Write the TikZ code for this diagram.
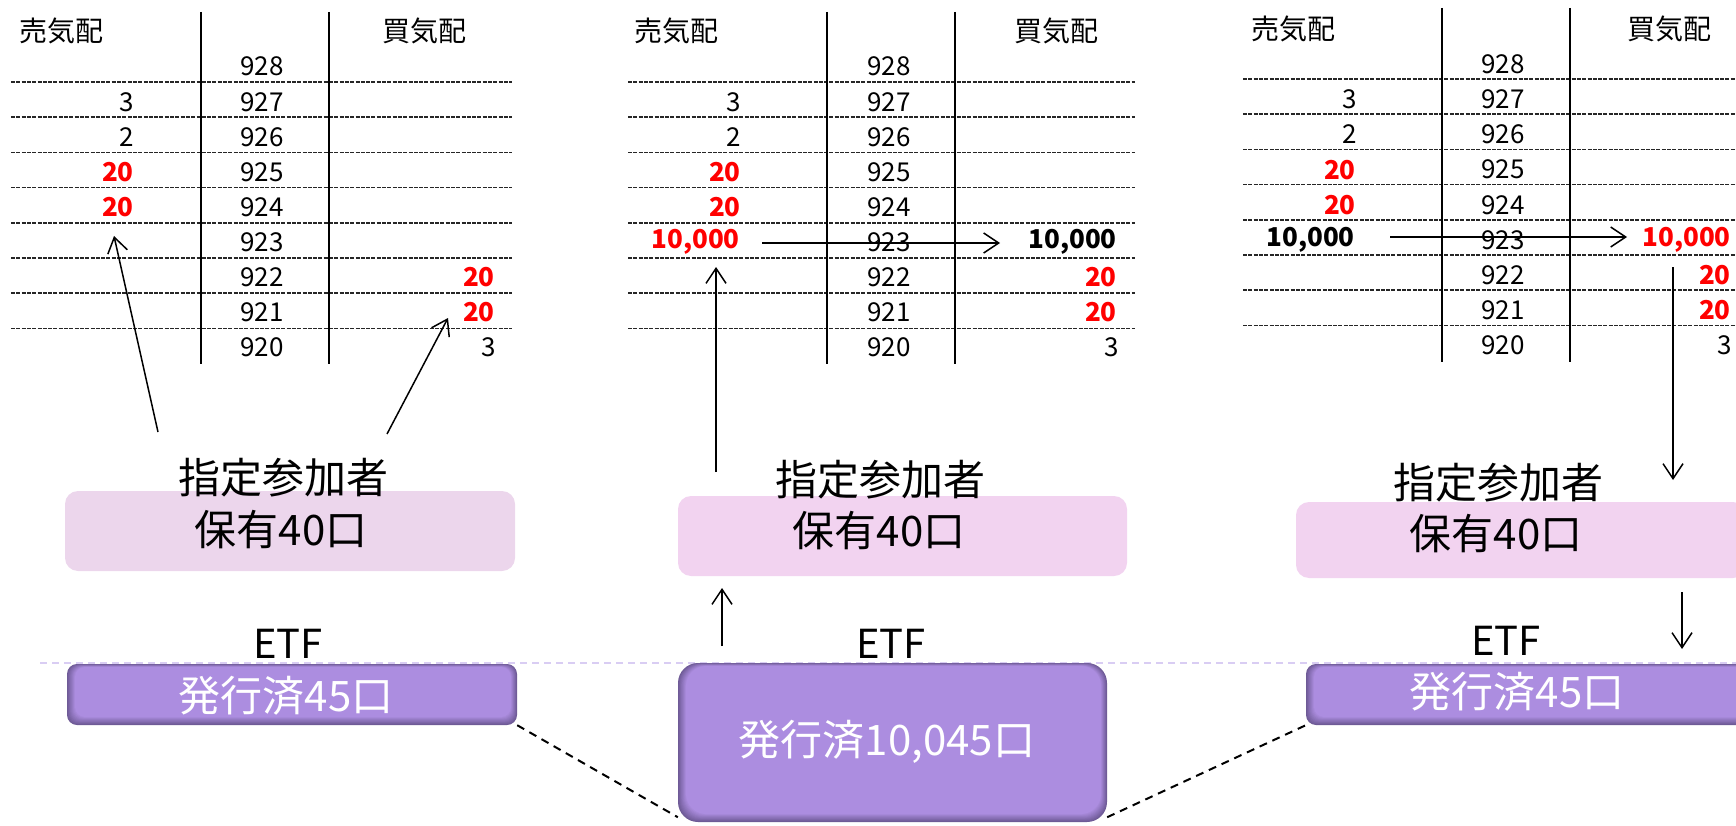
\documentclass[tikz,border=0pt]{standalone}
\usepackage{fontspec}
\setmainfont{Noto Sans CJK JP}
\usetikzlibrary{arrows.meta}
\definecolor{pinkA}{HTML}{ECD6EC}
\definecolor{pinkB}{HTML}{F2D3F0}
\definecolor{pmain}{HTML}{AC8DE0}
\definecolor{pdark}{HTML}{6E5A96}
\definecolor{lav}{HTML}{D9CDF3}
\definecolor{qred}{HTML}{FF0000}
\tikzset{
  hdr/.style={font=\fontsize{28}{30}\selectfont, inner sep=0pt},
  num/.style={font=\fontsize{26}{28}\selectfont, inner sep=0pt},
  rnum/.style={font=\fontsize{26}{28}\selectfont\bfseries, inner sep=0pt, text=qred},
  bnum/.style={font=\fontsize{26}{28}\selectfont\bfseries, inner sep=0pt},
  big/.style={font=\fontsize{42}{44}\selectfont, inner sep=0pt},
  etftxt/.style={font=\fontsize{40}{42}\selectfont, inner sep=0pt},
  wtxt/.style={font=\fontsize{42}{44}\selectfont, inner sep=0pt, text=white},
  bookline/.style={line width=1.5pt, dash pattern=on 4pt off 1.3pt, black!85},
  vline/.style={line width=2pt},
  arr/.style={line width=1.5pt, -{Straight Barb[length=15pt,width=20pt]}},
  zoomline/.style={line width=2pt, dash pattern=on 8pt off 6pt},
  lavline/.style={line width=2pt, lav, dash pattern=on 7pt off 5pt},
  pinkbox/.style={rectangle, rounded corners=13pt, fill=#1, draw=none, inner sep=0pt},
  etfbox/.style={rectangle, rounded corners=#1, fill=pdark, draw=none, inner sep=0pt,
    path picture={
      \foreach \i [evaluate=\i as \c using int(\i*10)] in {1,...,10}{
        \fill[pmain!\c!pdark, rounded corners=#1]
          ([xshift=\i*0.8pt, yshift=-\i*0.3pt]path picture bounding box.north west)
          rectangle ([xshift=-\i*0.6pt, yshift=\i*0.8pt]path picture bounding box.south east);
      }}},
}
\begin{document}
\begin{tikzpicture}[x=1pt,y=-1pt]
\useasboundingbox (0,0) rectangle (1736,826);
\clip (0,0) rectangle (1736,826);

% ================= Panel 1 =================
\foreach \k in {0,...,7}{\draw[bookline] (11,82+35.2*\k) -- (512,82+35.2*\k);}
\draw[vline] (201,12) -- (201,364);
\draw[vline] (329,12) -- (329,364);
\node[hdr] (as) at (61,31) {売気配};
\node[hdr] (ab) at (424,31) {買気配};
\foreach \p [count=\k from 0] in {928,927,...,920}{\node[num] (a\p) at (262,66.7+35.1*\k) {\p};}
\node[num,anchor=east] (as927) at (134,66.7+35.1*1) {3};
\node[num,anchor=east] (as926) at (134,66.7+35.1*2) {2};
\node[rnum,anchor=east] (as925) at (134,66.7+35.1*3) {20};
\node[rnum,anchor=east] (as924) at (134,66.7+35.1*4) {20};
\node[rnum,anchor=east] (ab922) at (495,66.7+35.1*6) {20};
\node[rnum,anchor=east] (ab921) at (495,66.7+35.1*7) {20};
\node[num,anchor=east] (ab920) at (496,66.7+35.1*8) {3};
\coordinate (a1s) at (158,432);
\coordinate (a1e) at (114,236);
\coordinate (a2s) at (387,434);
\coordinate (a2e) at (448,318);
\draw[arr] (a1s) -- (a1e);
\draw[arr] (a2s) -- (a2e);

% ================= Panel 2 =================
\foreach \k in {0,...,7}{\draw[bookline] (628,82+35.2*\k) -- (1135,82+35.2*\k);}
\draw[vline] (827,12) -- (827,364);
\draw[vline] (955,12) -- (955,364);
\node[hdr] (bs) at (676,31) {売気配};
\node[hdr] (bb) at (1056,31) {買気配};
\foreach \p [count=\k from 0] in {928,927,...,920}{\node[num] (b\p) at (889,66.7+35.1*\k) {\p};}
\node[num,anchor=east] (bs927) at (741,66.7+35.1*1) {3};
\node[num,anchor=east] (bs926) at (741,66.7+35.1*2) {2};
\node[rnum,anchor=east] (bs925) at (741,66.7+35.1*3) {20};
\node[rnum,anchor=east] (bs924) at (741,66.7+35.1*4) {20};
\node[rnum,anchor=east] (bs923) at (740,66.7+35.1*5) {10,000};
\node[bnum,anchor=east] (bb923) at (1117,66.7+35.1*5) {10,000};
\node[rnum,anchor=east] (bb922) at (1117,66.7+35.1*6) {20};
\node[rnum,anchor=east] (bb921) at (1117,66.7+35.1*7) {20};
\node[num,anchor=east] (bb920) at (1119,66.7+35.1*8) {3};
\coordinate (b1s) at (762,243);
\coordinate (b1e) at (1000,243);
\draw[arr] (b1s) -- (b1e);
\coordinate (b2s) at (716,472);
\coordinate (b2e) at (716,267);
\draw[arr] (b2s) -- (b2e);
\coordinate (b3s) at (722,646);
\coordinate (b3e) at (722,588);
\draw[arr] (b3s) -- (b3e);

% ================= Panel 3 =================
\foreach \k in {0,...,7}{\draw[bookline] (1243,79+35.2*\k) -- (1736,79+35.2*\k);}
\draw[vline] (1442,8) -- (1442,362);
\draw[vline] (1570,8) -- (1570,362);
\node[hdr] (cs) at (1293,29) {売気配};
\node[hdr] (cb) at (1669,29) {買気配};
\foreach \p [count=\k from 0] in {928,927,...,920}{\node[num] (c\p) at (1503,64+35.2*\k) {\p};}
\node[num,anchor=east] (cs927) at (1357,64+35.2*1) {3};
\node[num,anchor=east] (cs926) at (1357,64+35.2*2) {2};
\node[rnum,anchor=east] (cs925) at (1356,64+35.2*3) {20};
\node[rnum,anchor=east] (cs924) at (1356,64+35.2*4) {20};
\node[bnum,anchor=east] (cs923) at (1355,64+35.2*5) {10,000};
\node[rnum,anchor=east] (cb923) at (1731,64+35.2*5) {10,000};
\node[rnum,anchor=east] (cb922) at (1731,64+35.2*6) {20};
\node[rnum,anchor=east] (cb921) at (1731,64+35.2*7) {20};
\node[num,anchor=east] (cb920) at (1732,64+35.2*8) {3};
\coordinate (c1s) at (1390,237);
\coordinate (c1e) at (1627,237);
\draw[arr] (c1s) -- (c1e);
\coordinate (c2s) at (1673,267);
\coordinate (c2e) at (1673,480);
\draw[arr] (c2s) -- (c2e);
\coordinate (c3s) at (1682,592);
\coordinate (c3e) at (1682,649);
\draw[arr] (c3s) -- (c3e);

% ================= participant boxes =================
\node[pinkbox=pinkA, minimum width=450pt, minimum height=80pt] (pa) at (290,531) {};
\node[pinkbox=pinkB, minimum width=449pt, minimum height=80pt] (pb) at (902.5,536) {};
\node[pinkbox=pinkB, minimum width=450pt, minimum height=76pt] (pc) at (1521,540) {};
\node[big] (pat) at (283,478) {指定参加者};
\node[big] (pau) at (281,530) {保有40口};
\node[big] (pbt) at (880,480) {指定参加者};
\node[big] (pbu) at (879,531) {保有40口};
\node[big] (pct) at (1498,483) {指定参加者};
\node[big] (pcu) at (1496,534) {保有40口};

% ================= ETF =================
\coordinate (lavL) at (40,663);
\coordinate (lavR) at (1736,663);
\draw[lavline] (lavL) -- (lavR);
\node[etftxt] (ea) at (288,644) {ETF};
\node[etftxt] (eb) at (891,644) {ETF};
\node[etftxt] (ec) at (1506,641) {ETF};
\node[etfbox=10pt, minimum width=450pt, minimum height=61pt] (ka) at (292,694.5) {};
\node[etfbox=20pt, minimum width=429pt, minimum height=159pt] (kb) at (892.5,742.5) {};
\node[etfbox=10pt, minimum width=450pt, minimum height=61pt] (kc) at (1531,694.5) {};
\node[wtxt] (kat) at (286,696) {発行済45口};
\node[wtxt] (kbt) at (887,742) {発行済10,045口};
\node[wtxt] (kct) at (1517,692) {発行済45口};
\draw[zoomline] (ka.south east) -- ([yshift=5pt]kb.south west);
\draw[zoomline] ([yshift=5pt]kb.south east) -- (kc.south west);
\end{tikzpicture}
\end{document}
